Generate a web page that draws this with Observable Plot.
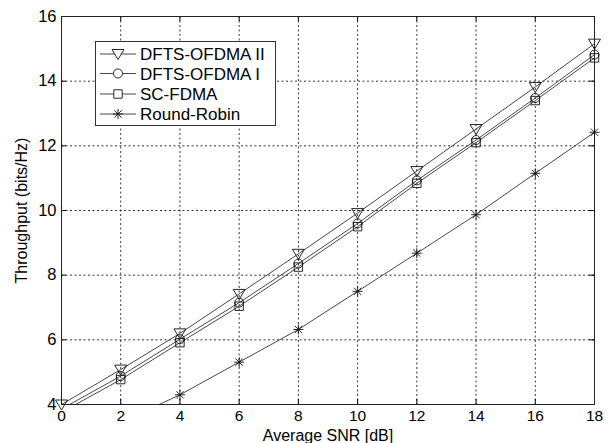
<!DOCTYPE html>
<html><head><meta charset="utf-8">
<script src="https://cdn.jsdelivr.net/npm/d3@7"></script>
<script src="https://cdn.jsdelivr.net/npm/@observablehq/plot@0.6"></script>
<style>
body{margin:0;background:#fff;font-family:"Liberation Sans",Arial,sans-serif;}
#wrap{position:relative;width:613px;height:443px;}
#legend{position:absolute;left:95px;top:41px;width:181px;height:85px;border:1px solid #333;background:#fff;box-sizing:border-box;}
</style></head>
<body><div id="wrap"><div id="legend"></div></div>
<script>
const snr = [0, 2, 4, 6, 8, 10, 12, 14, 16, 18];
const dfts2 = [4.0, 5.08, 6.2, 7.42, 8.66, 9.92, 11.22, 12.52, 13.82, 15.16];
const dfts1 = [3.86, 4.88, 6.02, 7.15, 8.36, 9.6, 10.93, 12.18, 13.48, 14.82];
const scfdma = [3.76, 4.77, 5.91, 7.04, 8.25, 9.5, 10.84, 12.1, 13.4, 14.72];
const rr = [2.7, 3.45, 4.3, 5.31, 6.32, 7.5, 8.68, 9.87, 11.15, 12.42];
const seriesNames = ["DFTS-OFDMA II", "DFTS-OFDMA I", "SC-FDMA", "Round-Robin"];
const xTicks = [0, 2, 4, 6, 8, 10, 12, 14, 16, 18];
const yTicks = [4, 6, 8, 10, 12, 14, 16];

const triDown = {draw(ctx, size){const r=Math.sqrt(size/Math.PI);ctx.moveTo(-1.2*r,-0.9*r);ctx.lineTo(1.2*r,-0.9*r);ctx.lineTo(0,1.1*r);ctx.closePath();}};
const circ = {draw(ctx, size){const r=Math.sqrt(size/Math.PI);ctx.moveTo(r,0);ctx.arc(0,0,r,0,2*Math.PI);}};
const sq = {draw(ctx, size){const r=Math.sqrt(size/Math.PI);ctx.rect(-r,-r,2*r,2*r);}};
const star = {draw(ctx, size){const r=Math.sqrt(size/Math.PI);ctx.moveTo(-r,0);ctx.lineTo(r,0);ctx.moveTo(0,-r);ctx.lineTo(0,r);const d=r*0.72;ctx.moveTo(-d,-d);ctx.lineTo(d,d);ctx.moveTo(-d,d);ctx.lineTo(d,-d);}};
const symbols = [triDown, circ, sq, star];
const radii = [5, 4.5, 4.2, 5];
const vals = [dfts2, dfts1, scfdma, rr];

const data = [];
vals.forEach((arr, k) => arr.forEach((v, i) => data.push({s: seriesNames[k], k, x: snr[i], y: v})));
const visible = data.filter(d => d.y >= 4 && d.y <= 16);

const W = 613, H = 443, mL = 61, mR = 19, mT = 16, mB = 39;
const marks = [
  Plot.gridX(xTicks, {stroke: "#000", strokeOpacity: 1, strokeDasharray: "2,2.5", strokeWidth: 0.8}),
  Plot.gridY(yTicks, {stroke: "#000", strokeOpacity: 1, strokeDasharray: "2,2.5", strokeWidth: 0.8}),
  Plot.ruleY(yTicks, {stroke: "#000", insetRight: W - mL - mR - 5}),
  Plot.ruleY(yTicks, {stroke: "#000", insetLeft: W - mL - mR - 5}),
  Plot.ruleX(xTicks, {stroke: "#000", insetTop: H - mT - mB - 5}),
  Plot.ruleX(xTicks, {stroke: "#000", insetBottom: H - mT - mB - 5}),
  Plot.frame({stroke: "#222", strokeWidth: 1}),
  Plot.axisX({ticks: xTicks, tickSize: 0, tickPadding: 5.5, fontSize: 15.5, label: null}),
  Plot.axisX({ticks: [], tickSize: 0, fontSize: 16, label: "Average SNR [dB]", labelAnchor: "center", labelArrow: "none", labelOffset: 36}),
  Plot.axisY({ticks: yTicks, tickSize: 0, tickPadding: 5, fontSize: 16.5, label: null}),
  Plot.axisY({ticks: [], tickSize: 0, fontSize: 16, label: "Throughput (bits/Hz)", labelAnchor: "center", labelArrow: "none", labelOffset: 46}),
];
vals.forEach((arr, k) => {
  marks.push(Plot.line(data.filter(d => d.k === k), {x: "x", y: "y", stroke: "#333", strokeWidth: 0.9, clip: "frame"}));
});
vals.forEach((arr, k) => {
  marks.push(Plot.dot(visible.filter(d => d.k === k), {x: "x", y: "y", symbol: () => symbols[k], r: radii[k], stroke: "#111", strokeWidth: 0.9, fill: "none"}));
});

const chart = Plot.plot({
  width: W, height: H, marginLeft: mL, marginRight: mR, marginTop: mT, marginBottom: mB,
  style: {fontFamily: "Liberation Sans, Arial, sans-serif", fontSize: "16px", color: "#000", background: "#fff", overflow: "visible"},
  x: {domain: [0, 18]},
  y: {domain: [4, 16]},
  symbol: {type: "identity"},
  marks
});
document.getElementById("wrap").insertBefore(chart, document.getElementById("legend"));

// legend
const lg = d3.select("#legend");
const svg = lg.append("svg").attr("width", 179).attr("height", 83).style("position", "absolute").style("left", 0).style("top", 0);
const rowsY = [12, 31.5, 52, 72];
seriesNames.forEach((name, k) => {
  const g = svg.append("g").attr("transform", `translate(0,${rowsY[k]})`);
  g.append("line").attr("x1", 4).attr("x2", 40).attr("stroke", "#333").attr("stroke-width", 0.9);
  g.append("path").attr("transform", "translate(22,0)").attr("d", d3.symbol(symbols[k], Math.PI * radii[k] * radii[k])()).attr("fill", "#fff").attr("stroke", "#111").attr("stroke-width", 0.9);
  g.append("text").attr("x", 44).attr("y", 6).attr("font-size", 17).attr("font-family", "Liberation Sans, Arial, sans-serif").text(name);
});
</script></body></html>
